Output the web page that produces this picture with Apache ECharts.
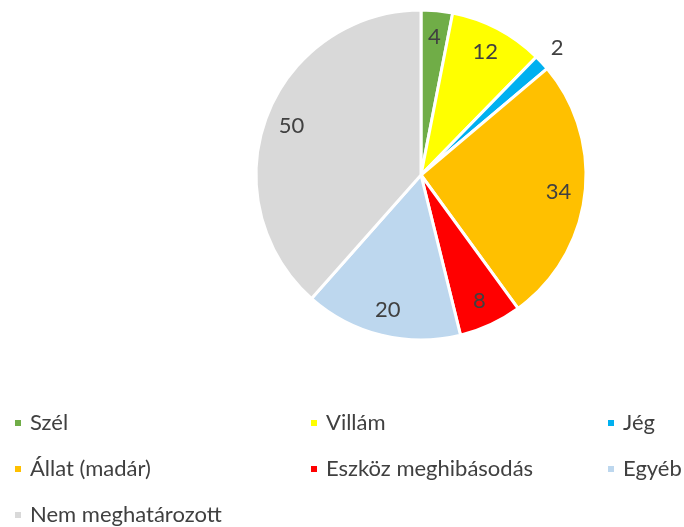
<!DOCTYPE html>
<html>
<head>
<meta charset="utf-8">
<script src="https://cdn.jsdelivr.net/npm/echarts@6/dist/echarts.min.js"></script>
<style>
  html, body { margin: 0; padding: 0; background: #fff; }
  #chart { width: 684px; height: 527px; }
</style>
</head>
<body>
<div id="chart"></div>
<script>
const categories = ["Szél", "Villám", "Jég", "Állat (madár)", "Eszköz meghibásodás", "Egyéb", "Nem meghatározott"];
const counts = [4, 12, 2, 34, 8, 20, 50];
const colors = ["#70AD47", "#FFFF00", "#00B0F0", "#FFC000", "#FF0000", "#BDD7EE", "#D9D9D9"];
// categories whose value label sits outside the pie
const outsideLabels = ["Jég"];

const legendColumns = [
  ["Szél", "Állat (madár)", "Nem meghatározott"],
  ["Villám", "Eszköz meghibásodás"],
  ["Jég", "Egyéb"],
];
const legendLefts = [13, 309, 606];

const font = "Lato, 'Open Sans', sans-serif";
const textColor = "#404040";
const center = [421, 175];

const pieData = categories.map((name, i) => ({
  name,
  value: counts[i],
  itemStyle: { color: colors[i] },
}));

function labelData(showOutside) {
  return categories.map((name, i) => ({
    name,
    value: counts[i],
    label: { show: outsideLabels.includes(name) === showOutside },
  }));
}

const labelSeries = (radius, showOutside) => ({
  type: "pie",
  center,
  radius,
  startAngle: 90,
  silent: true,
  animation: false,
  itemStyle: { color: "rgba(0,0,0,0)", borderWidth: 0 },
  label: {
    position: "inside",
    formatter: "{c}",
    color: textColor,
    fontFamily: font,
    fontSize: 22,
  },
  labelLine: { show: false },
  emphasis: { disabled: true },
  data: labelData(showOutside),
});

const chart = echarts.init(document.getElementById("chart"), null, { renderer: "canvas" });
chart.setOption({
  backgroundColor: "#fff",
  animation: false,
  legend: legendColumns.map((names, i) => ({
    orient: "vertical",
    left: legendLefts[i],
    top: 411,
    height: 120,
    padding: 0,
    data: names,
    icon: "rect",
    itemWidth: 8,
    itemHeight: 8,
    itemGap: 22,
    selectedMode: false,
    textStyle: { color: textColor, fontFamily: font, fontSize: 22, lineHeight: 24, padding: [0, 0, 0, 3] },
  })),
  series: [
    {
      type: "pie",
      center,
      radius: 165,
      startAngle: 90,
      itemStyle: { borderColor: "#fff", borderWidth: 3 },
      label: { show: false },
      labelLine: { show: false },
      emphasis: { disabled: true },
      data: pieData,
    },
    labelSeries([106, 165], false),
    labelSeries([170, 196], true),
  ],
});
</script>
</body>
</html>
